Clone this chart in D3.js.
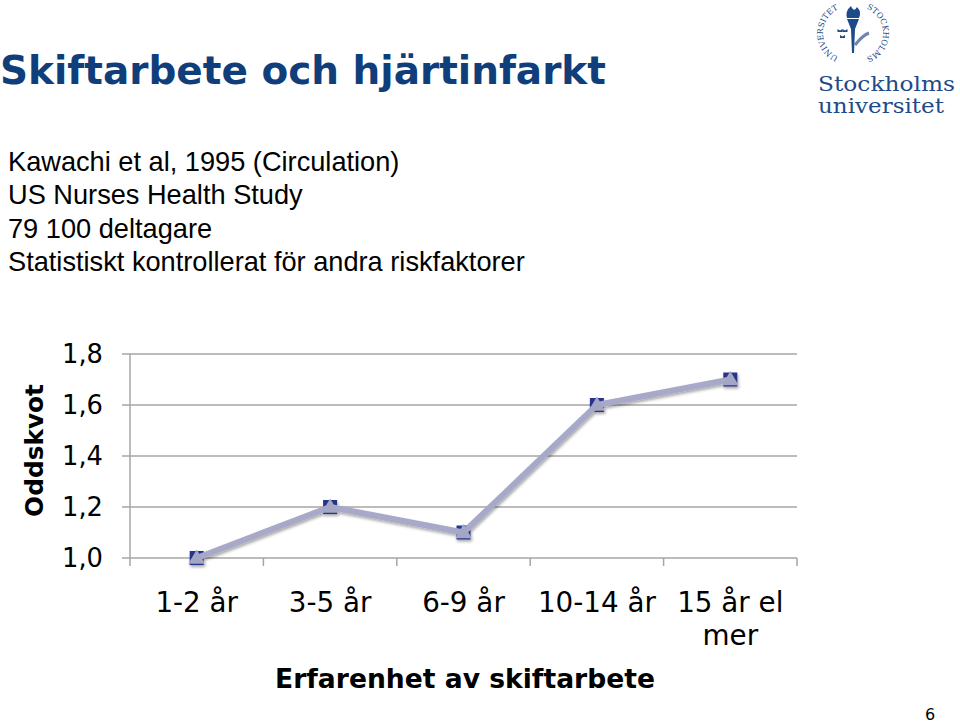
<!DOCTYPE html>
<html><head><meta charset="utf-8">
<script src="https://cdnjs.cloudflare.com/ajax/libs/d3/7.8.5/d3.min.js"></script>
<style>html,body{margin:0;padding:0;background:#fff;}svg{display:block;}</style>
</head><body>
<script>
const categories = ["1-2 år", "3-5 år", "6-9 år", "10-14 år", "15 år el mer"];
const values = [1.0, 1.2, 1.1, 1.6, 1.7];
const yTicks = [1.0, 1.2, 1.4, 1.6, 1.8];
const titleText = "Skiftarbete och hjärtinfarkt";
const subtitleLines = ["Kawachi et al, 1995 (Circulation)", "US Nurses Health Study", "79 100 deltagare", "Statistiskt kontrollerat för andra riskfaktorer"];
const yTitle = "Oddskvot";
const xTitle = "Erfarenhet av skiftarbete";

(function () {
const W = 960, H = 724;
const svg = d3.select("body").append("svg").attr("width", W).attr("height", H);
const SANS = "DejaVu Sans, Verdana, sans-serif";
const ARIAL = "Liberation Sans, Arial, sans-serif";

function fitSize(text, family, weight, target) {
  const t = svg.append("text").attr("font-family", family).attr("font-weight", weight).attr("font-size", 100).text(text);
  const w = t.node().getComputedTextLength();
  t.remove();
  return 100 * target / w;
}

const defs = svg.append("defs");
const f = defs.append("filter").attr("id", "sh").attr("x", "-10%").attr("y", "-10%").attr("width", "130%").attr("height", "140%");
f.append("feDropShadow").attr("dx", 1).attr("dy", 2).attr("stdDeviation", 1.5).attr("flood-color", "#000").attr("flood-opacity", 0.35);

svg.append("text").attr("x", 0).attr("y", 84).attr("font-family", SANS)
  .attr("font-weight", "bold").attr("font-size", fitSize(titleText, SANS, "bold", 606)).attr("fill", "#0f3e7a").text(titleText);
const subSize = fitSize(subtitleLines[3], ARIAL, "normal", 517);
svg.selectAll("text.sub").data(subtitleLines).enter().append("text").attr("class", "sub")
  .attr("x", 8).attr("y", (d, i) => 171 + i * 33.3)
  .attr("font-family", ARIAL).attr("font-size", subSize).attr("fill", "#000").text(d => d);

const pL = 130, pR = 797, pT = 354, pB = 558;
const x = d3.scaleBand().domain(categories).range([pL, pR]).padding(0);
const y = d3.scaleLinear().domain([1.0, 1.8]).range([pB, pT]);

const g = svg.append("g");
g.selectAll("line.grid").data(yTicks).enter().append("line")
  .attr("x1", pL - 8).attr("x2", pR).attr("y1", d => y(d)).attr("y2", d => y(d))
  .attr("stroke", "#a6a6a6").attr("stroke-width", 1.5);
g.append("line").attr("x1", pL).attr("x2", pL).attr("y1", pT).attr("y2", pB + 8)
  .attr("stroke", "#a6a6a6").attr("stroke-width", 1.5);
const bounds = categories.map(c => x(c) + x.bandwidth());
g.selectAll("line.xt").data(bounds).enter().append("line")
  .attr("x1", d => d).attr("x2", d => d).attr("y1", pB).attr("y2", pB + 8)
  .attr("stroke", "#a6a6a6").attr("stroke-width", 1.5);

const ySize = fitSize("1,8", SANS, "normal", 41);
g.selectAll("text.yl").data(yTicks).enter().append("text")
  .attr("x", 103).attr("y", d => y(d) + 9).attr("text-anchor", "end")
  .attr("font-family", SANS).attr("font-size", ySize).attr("fill", "#000")
  .text(d => d3.format(".1f")(d).replace(".", ","));

const xSize = fitSize("10-14 år", SANS, "normal", 118);
const xlab = g.selectAll("text.xl").data(categories).enter().append("text")
  .attr("text-anchor", "middle").attr("font-family", SANS)
  .attr("font-size", xSize).attr("fill", "#000");
xlab.each(function(d) {
  const cx = x(d) + x.bandwidth() / 2;
  const t = d3.select(this);
  const lines = d === "15 år el mer" ? ["15 år el", "mer"] : [d];
  lines.forEach((l, i) => t.append("tspan").attr("x", cx).attr("y", 612 + i * 33).text(l));
});

svg.append("text").attr("transform", `translate(43,${(384 + 517) / 2}) rotate(-90)`)
  .attr("text-anchor", "middle").attr("font-family", SANS)
  .attr("font-weight", "bold").attr("font-size", fitSize(yTitle, SANS, "bold", 133)).attr("fill", "#000").text(yTitle);
svg.append("text").attr("x", 465).attr("y", 688).attr("text-anchor", "middle")
  .attr("font-family", SANS).attr("font-weight", "bold")
  .attr("font-size", fitSize(xTitle, SANS, "bold", 380)).attr("fill", "#000").text(xTitle);

const pts = categories.map((c, i) => [x(c) + x.bandwidth() / 2, y(values[i])]);
const sg = g.append("g").attr("filter", "url(#sh)");
sg.selectAll("rect.m").data(pts).enter().append("rect")
  .attr("x", d => d[0] - 7).attr("y", d => d[1] - 7).attr("width", 14).attr("height", 14)
  .attr("fill", "#28348c");
sg.append("path").attr("d", d3.line()(pts)).attr("fill", "none")
  .attr("stroke", "#a8a9c9").attr("stroke-width", 6).attr("stroke-linejoin", "round");
sg.selectAll("path.tri").data(pts).enter().append("path")
  .attr("transform", d => `translate(${d[0]},${d[1] + 1})`)
  .attr("d", d3.symbol().type(d3.symbolTriangle).size(120)())
  .attr("fill", "#a4a6c6");

// logo
const lg = svg.append("g");
const cx0 = 853, cy0 = 33, r0 = 25;
defs.append("path").attr("id", "arcL").attr("d", `M ${cx0 - 4} ${cy0 + r0 + 1} A ${r0} ${r0} 0 0 1 ${cx0 - 4} ${cy0 - r0 - 1}`);
defs.append("path").attr("id", "arcR").attr("d", `M ${cx0 + 4} ${cy0 - r0 - 1} A ${r0} ${r0} 0 0 1 ${cx0 + 4} ${cy0 + r0 + 1}`);
lg.append("text").attr("font-family", "DejaVu Serif, serif").attr("font-size", 8).attr("fill", "#1d4a8a")
  .append("textPath").attr("href", "#arcL").attr("startOffset", "50%").attr("text-anchor", "middle").text("UNIVERSITET");
lg.append("text").attr("font-family", "DejaVu Serif, serif").attr("font-size", 8).attr("fill", "#1d4a8a")
  .append("textPath").attr("href", "#arcR").attr("startOffset", "50%").attr("text-anchor", "middle").text("STOCKHOLMS");
lg.append("path").attr("d", `M ${cx0 - 6} ${cy0 - 14} L ${cx0 + 6} ${cy0 - 14} L ${cx0 + 2} ${cy0 - 4} L ${cx0 + 1} ${cy0 + 20} L ${cx0 - 1} ${cy0 + 20} L ${cx0 - 2} ${cy0 - 4} Z`).attr("fill", "#1d4a8a");
lg.append("path").attr("d", `M ${cx0 - 6} ${cy0 - 15} Q ${cx0 - 8} ${cy0 - 22} ${cx0 - 2} ${cy0 - 27} Q ${cx0 + 1} ${cy0 - 20} ${cx0 + 4} ${cy0 - 26} Q ${cx0 + 9} ${cy0 - 21} ${cx0 + 6} ${cy0 - 15} Z`).attr("fill", "#1d4a8a");
[[-13, -4], [-8, -4], [-10.5, 2]].forEach(o => lg.append("path")
  .attr("d", `M ${cx0 + o[0] - 2.5} ${cy0 + o[1] + 3} L ${cx0 + o[0] - 2.5} ${cy0 + o[1]} L ${cx0 + o[0]} ${cy0 + o[1] + 1.5} L ${cx0 + o[0] + 2.5} ${cy0 + o[1]} L ${cx0 + o[0] + 2.5} ${cy0 + o[1] + 3} Z`).attr("fill", "#1d4a8a"));
lg.append("path").attr("d", `M ${cx0 + 2} ${cy0 + 12} Q ${cx0 + 10} ${cy0 + 2} ${cx0 + 16} ${cy0}`).attr("stroke", "#6d86b0").attr("stroke-width", 3).attr("fill", "none");
lg.append("text").attr("x", 818).attr("y", 91).attr("font-family", "DejaVu Serif, serif").attr("font-size", 21)
  .attr("fill", "#1d4a8a").attr("textLength", 137).attr("lengthAdjust", "spacingAndGlyphs").text("Stockholms");
lg.append("text").attr("x", 818).attr("y", 113).attr("font-family", "DejaVu Serif, serif").attr("font-size", 21)
  .attr("fill", "#1d4a8a").attr("textLength", 126).attr("lengthAdjust", "spacingAndGlyphs").text("universitet");

svg.append("text").attr("x", 930).attr("y", 720).attr("text-anchor", "middle")
  .attr("font-family", SANS).attr("font-size", 16).attr("fill", "#000").text("6");
})();
</script>
</body></html>
